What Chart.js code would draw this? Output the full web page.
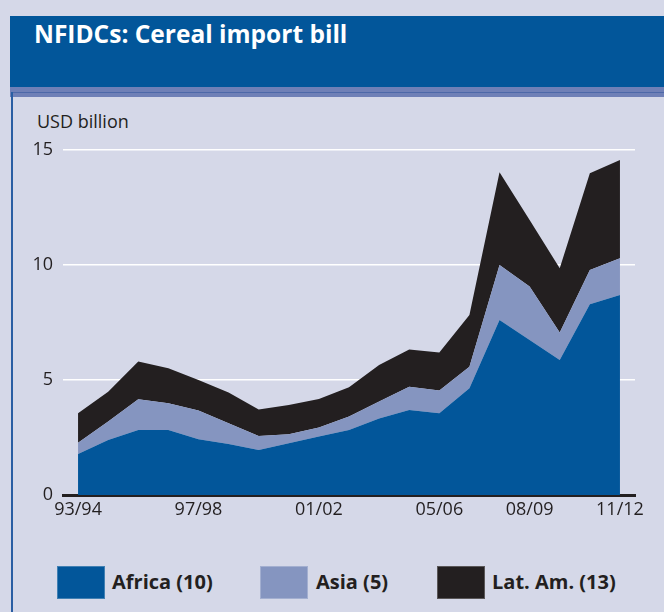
<!DOCTYPE html>
<html>
<head>
<meta charset="utf-8">
<script src="https://cdn.jsdelivr.net/npm/chart.js@4.4.1/dist/chart.umd.min.js"></script>
<style>
html,body{margin:0;padding:0;}
body{width:664px;height:612px;background:#d5d8e8;position:relative;overflow:hidden;font-family:"Open Sans",sans-serif;color:#231f20;}
#hdr{position:absolute;left:10px;top:16px;width:654px;height:71px;background:#02569a;}
#stripe{position:absolute;left:10px;top:87px;width:654px;height:10px;background:#6f80b7;}
#stripeLine{position:absolute;left:11px;top:92px;width:653px;height:1px;background:#4d68a8;}
#frame{position:absolute;left:11px;top:92px;width:2px;height:520px;background:#2a5ea3;}
#title{position:absolute;left:34px;top:21.5px;color:#fff;font-weight:700;font-size:24.5px;line-height:1;white-space:nowrap;}
#unit{position:absolute;left:37px;top:112px;font-size:18px;line-height:1;white-space:nowrap;}
#legend{position:absolute;left:0;top:0;}
.lbox{position:absolute;top:566px;width:48px;height:33px;box-sizing:border-box;border:1px solid rgba(255,255,255,0.25);}
.ltxt{position:absolute;top:572px;font-weight:700;font-size:20px;line-height:1;white-space:nowrap;}
canvas{position:absolute;left:0;top:0;}
</style>
</head>
<body>
<div id="hdr"></div>
<div id="stripe"></div>
<div id="stripeLine"></div>
<div id="frame"></div>
<div id="title">NFIDCs: Cereal import bill</div>
<div id="unit">USD billion</div>
<div id="legend"></div>
<canvas id="c" width="664" height="612"></canvas>
<script>
// ---- data ----
const categories = ['93/94','94/95','95/96','96/97','97/98','98/99','99/00','00/01','01/02','02/03','03/04','04/05','05/06','06/07','07/08','08/09','09/10','10/11','11/12'];
const shownLabels = ['93/94','97/98','01/02','05/06','08/09','11/12'];
const seriesNames = ['Africa (10)','Asia (5)','Lat. Am. (13)'];
const africa = [1.78, 2.39, 2.83, 2.83, 2.42, 2.22, 1.96, 2.25, 2.54, 2.83, 3.33, 3.70, 3.55, 4.64, 7.61, 6.74, 5.87, 8.29, 8.70];
const asia   = [0.49, 0.81, 1.33, 1.16, 1.25, 0.90, 0.61, 0.39, 0.39, 0.58, 0.73, 1.01, 0.99, 0.94, 2.39, 2.32, 1.19, 1.49, 1.59];
const latAm  = [1.28, 1.29, 1.64, 1.52, 1.33, 1.34, 1.15, 1.27, 1.24, 1.27, 1.59, 1.62, 1.66, 2.25, 4.03, 2.90, 2.80, 4.21, 4.28];
const yTickValues = [0, 5, 10, 15];

const colors = ['#02569a', '#8595c0', '#231f20'];
const seriesData = [africa, asia, latAm];

// legend (HTML)
const legendPos = [[57,112],[260,316],[437,492]];
const legend = document.getElementById('legend');
seriesNames.forEach((n,i) => {
  const b = document.createElement('div');
  b.className = 'lbox'; b.style.left = legendPos[i][0] + 'px'; b.style.background = colors[i];
  const t = document.createElement('div');
  t.className = 'ltxt'; t.style.left = legendPos[i][1] + 'px'; t.textContent = n;
  legend.appendChild(b); legend.appendChild(t);
});

const datasets = seriesData.map((d,i) => ({
  label: seriesNames[i],
  data: d,
  backgroundColor: colors[i],
  borderColor: colors[i],
  borderWidth: 0,
  pointRadius: 0,
  tension: 0,
  fill: i === 0 ? 'origin' : '-1'
}));

new Chart(document.getElementById('c'), {
  type: 'line',
  data: { labels: categories, datasets },
  options: {
    responsive: false,
    animation: false,
    layout: { padding: { left: 0, right: 29, top: 150, bottom: 87 } },
    plugins: { legend: { display: false }, tooltip: { enabled: false }, title: { display: false } },
    scales: {
      x: {
        offset: true,
        grid: { display: false, drawTicks: false },
        border: { display: true, color: '#231f20', width: 3 },
        ticks: {
          autoSkip: false, maxRotation: 0, padding: 4,
          color: '#231f20', font: { family: 'Open Sans', size: 18 },
          callback: function(v, idx) { return shownLabels.includes(categories[idx]) ? categories[idx] : ''; }
        },
        afterFit: s => { s.height = 30; }
      },
      y: {
        stacked: true,
        min: 0, max: 15,
        grid: { color: '#ffffff', lineWidth: 1.5, drawTicks: false },
        border: { display: false },
        afterBuildTicks: s => { s.ticks = yTickValues.map(v => ({ value: v })); },
        ticks: { padding: 10, color: '#231f20', font: { family: 'Open Sans', size: 18 } },
        afterFit: s => { s.width = 63; }
      }
    }
  }
});
</script>
</body>
</html>
